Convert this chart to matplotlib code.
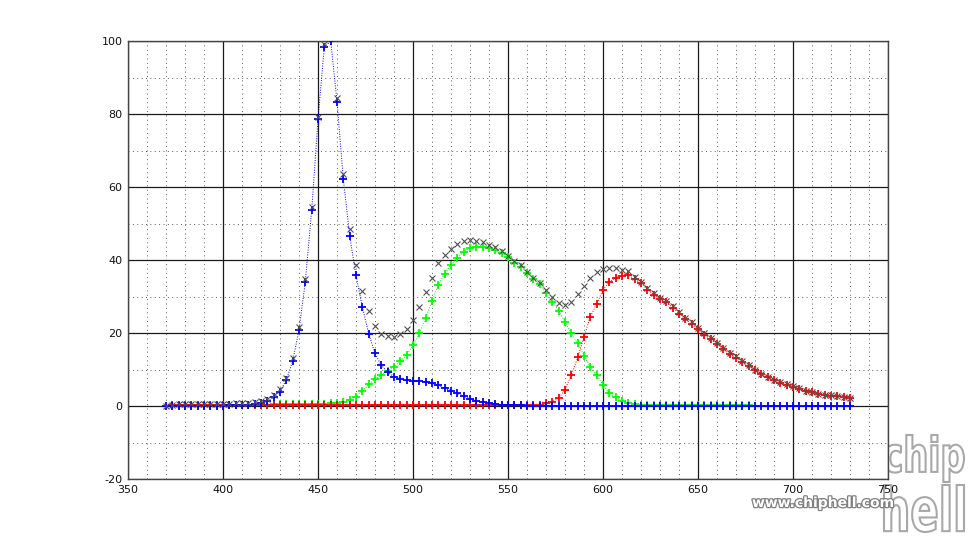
import numpy as np
import matplotlib
matplotlib.use("Agg")
import matplotlib.pyplot as plt
from matplotlib.ticker import MultipleLocator
from matplotlib.textpath import TextPath
from matplotlib.patches import PathPatch
from matplotlib.font_manager import FontProperties
from matplotlib.transforms import Affine2D
import matplotlib.patheffects as pe

plt.rcParams["axes.unicode_minus"] = False
nan = float("nan")

wavelength = [
    370.0, 373.3, 376.7, 380.0, 383.3, 386.7, 390.0, 393.3, 396.7,
    400.0, 403.3, 406.7, 410.0, 413.3, 416.7, 420.0, 423.3, 426.7,
    430.0, 433.3, 436.7, 440.0, 443.3, 446.7, 450.0, 453.3, 456.7,
    460.0, 463.3, 466.7, 470.0, 473.3, 476.7, 480.0, 483.3, 486.7,
    490.0, 493.3, 496.7, 500.0, 503.3, 506.7, 510.0, 513.3, 516.7,
    520.0, 523.3, 526.7, 530.0, 533.3, 536.7, 540.0, 543.3, 546.7,
    550.0, 553.3, 556.7, 560.0, 563.3, 566.7, 570.0, 573.3, 576.7,
    580.0, 583.3, 586.7, 590.0, 593.3, 596.7, 600.0, 603.3, 606.7,
    610.0, 613.3, 616.7, 620.0, 623.3, 626.7, 630.0, 633.3, 636.7,
    640.0, 643.3, 646.7, 650.0, 653.3, 656.7, 660.0, 663.3, 666.7,
    670.0, 673.3, 676.7, 680.0, 683.3, 686.7, 690.0, 693.3, 696.7,
    700.0, 703.3, 706.7, 710.0, 713.3, 716.7, 720.0, 723.3, 726.7,
    730.0,
]

blue = [
    0.1, 0.1, 0.1, 0.1, 0.1, 0.1, 0.1, 0.1, 0.1,
    0.1, 0.15, 0.2, 0.25, 0.35, 0.5, 0.75, 1.4, 2.4,
    3.9, 7.1, 12.4, 20.8, 34.0, 53.7, 78.5, 98.3, 100.0,
    83.4, 62.3, 46.5, 35.8, 27.2, 19.8, 14.4, 11.1, 9.3,
    8.0, 7.4, 7.0, 6.85, 6.85, 6.7, 6.2, 5.75, 4.85,
    4.2, 3.5, 2.7, 2.0, 1.4, 1.1, 0.7, 0.5, 0.35,
    0.25, 0.2, 0.15, 0.1, 0.1, 0.1, 0.1, 0.1, 0.1,
    0.1, 0.1, 0.1, 0.1, 0.1, 0.1, 0.1, 0.1, 0.1,
    0.1, 0.1, 0.1, 0.1, 0.1, 0.1, 0.1, 0.1, 0.1,
    0.1, 0.1, 0.1, 0.1, 0.1, 0.1, 0.1, 0.1, 0.1,
    0.1, 0.1, 0.1, 0.1, 0.1, 0.1, 0.1, 0.1, 0.1,
    0.1, 0.1, 0.1, 0.1, 0.1, 0.1, 0.1, 0.1, 0.1,
    0.1,
]

green = [
    nan, nan, 0.3, 0.3, 0.3, 0.3, 0.3, 0.3, 0.3,
    0.3, 0.3, 0.3, 0.3, 0.3, 0.35, 0.4, 0.4, 0.45,
    0.5, 0.5, 0.5, 0.55, 0.6, 0.6, 0.6, 0.65, 0.7,
    0.75, 1.1, 1.7, 2.6, 4.2, 5.9, 7.3, 8.5, 9.6,
    10.8, 12.2, 14.0, 16.6, 20.0, 24.2, 28.7, 33.2, 36.3,
    38.6, 40.6, 42.3, 43.2, 43.6, 43.5, 43.2, 42.8, 42.0,
    40.7, 39.3, 38.2, 36.5, 34.9, 33.3, 30.9, 28.6, 26.1,
    23.0, 19.9, 17.2, 13.8, 10.6, 8.5, 5.7, 3.6, 2.4,
    1.5, 0.95, 0.55, 0.4, 0.3, 0.3, 0.3, 0.3, 0.3,
    0.3, 0.3, 0.3, 0.3, 0.3, 0.3, 0.3, 0.3, 0.3,
    0.3, 0.3, 0.3, nan, nan, nan, nan, nan, nan,
    nan, nan, nan, nan, nan, nan, nan, nan, nan,
    nan,
]

red = [
    nan, 0.2, 0.2, 0.2, 0.2, 0.2, 0.2, 0.2, 0.2,
    0.2, 0.2, 0.2, 0.2, 0.2, 0.2, 0.2, 0.2, 0.2,
    0.2, 0.2, 0.2, 0.2, 0.2, 0.2, 0.2, 0.2, 0.2,
    0.2, 0.2, 0.2, 0.2, 0.2, 0.2, 0.2, 0.2, 0.2,
    0.2, 0.2, 0.2, 0.2, 0.2, 0.2, 0.2, 0.2, 0.2,
    0.2, 0.2, 0.2, 0.2, 0.2, 0.2, 0.2, 0.2, 0.2,
    0.2, 0.2, 0.2, 0.2, 0.2, 0.2, 0.7, 1.2, 2.1,
    4.5, 8.5, 13.3, 19.0, 24.5, 28.0, 31.8, 34.0, 35.2,
    35.7, 35.9, 34.7, 33.6, 31.9, 30.5, 29.2, 28.4, 26.9,
    25.3, 23.8, 22.5, 21.1, 19.5, 18.3, 16.9, 15.6, 14.2,
    13.2, 12.0, 10.9, 9.9, 8.8, 7.9, 7.1, 6.4, 5.8,
    5.3, 4.7, 4.1, 3.7, 3.3, 3.0, 2.8, 2.7, 2.5,
    2.1,
]

x_ticks = [350, 400, 450, 500, 550, 600, 650, 700, 750]
y_ticks = [-20, 0, 20, 40, 60, 80, 100]

wl = np.array(wavelength, dtype=float)
b = np.array(blue, dtype=float)
g = np.array(green, dtype=float)
r = np.array(red, dtype=float)
total = np.nan_to_num(b) + np.nan_to_num(g) + np.nan_to_num(r)

W, H = 980, 538
fig = plt.figure(figsize=(W / 100, H / 100), dpi=100)
fig.patch.set_facecolor("white")
ax = fig.add_axes([128 / W, 1 - 479 / H, 760 / W, 438 / H])

ax.set_xlim(350, 750)
ax.set_ylim(-20, 100)
ax.set_xticks(x_ticks)
ax.set_yticks(y_ticks)
ax.xaxis.set_minor_locator(MultipleLocator(10))
ax.yaxis.set_minor_locator(MultipleLocator(10))
ax.grid(True, which="major", color="#1a1a1a", linestyle="-", linewidth=0.9)
ax.grid(True, which="minor", color="#5a5a5a", linestyle=(0, (1, 3.5)), linewidth=0.7)
ax.set_axisbelow(True)
ax.tick_params(which="both", length=0, labelsize=8, colors="#111111", pad=4)
for s in ax.spines.values():
    s.set_color("#444444")
    s.set_linewidth(1.0)

series = [(g, (0, 1, 0)), (r, (1, 0, 0)), (b, (0, 0, 1))]
for vals, col in series:
    ax.plot(wl, vals, linestyle=(0, (1, 1.5)), linewidth=0.7, color=col,
            marker="+", markersize=6, markeredgewidth=1.3, zorder=3)
ax.plot(wl, total, linestyle="none", marker="x", markersize=4,
        markeredgewidth=0.8, color="#505050", zorder=4)

# watermark (drawn behind the axes so tick labels stay on top)
fig.text(752 / W, 1 - 503 / H, "www.chiphell.com", fontsize=10,
         fontweight="bold", color="white", va="center", ha="left", zorder=-2,
         path_effects=[pe.withStroke(linewidth=1.8, foreground="#808080")])
fp = FontProperties(family="DejaVu Sans", weight="bold")
for word, y0 in [("chip", H - 482), ("hell", H - 532)]:
    tp = TextPath((0, 0), word, size=30, prop=fp)
    ext = tp.get_extents()
    sx = 80 / ext.width
    sy = 47 / ext.height
    tr = Affine2D().translate(-ext.x0, -ext.y0).scale(sx, sy).translate(884, y0)
    patch = PathPatch(tp, transform=tr, facecolor="white", edgecolor="#a8a8a8",
                      linewidth=1.5, zorder=-3)
    fig.add_artist(patch)

fig.savefig("out.png", dpi=100, facecolor="white")
